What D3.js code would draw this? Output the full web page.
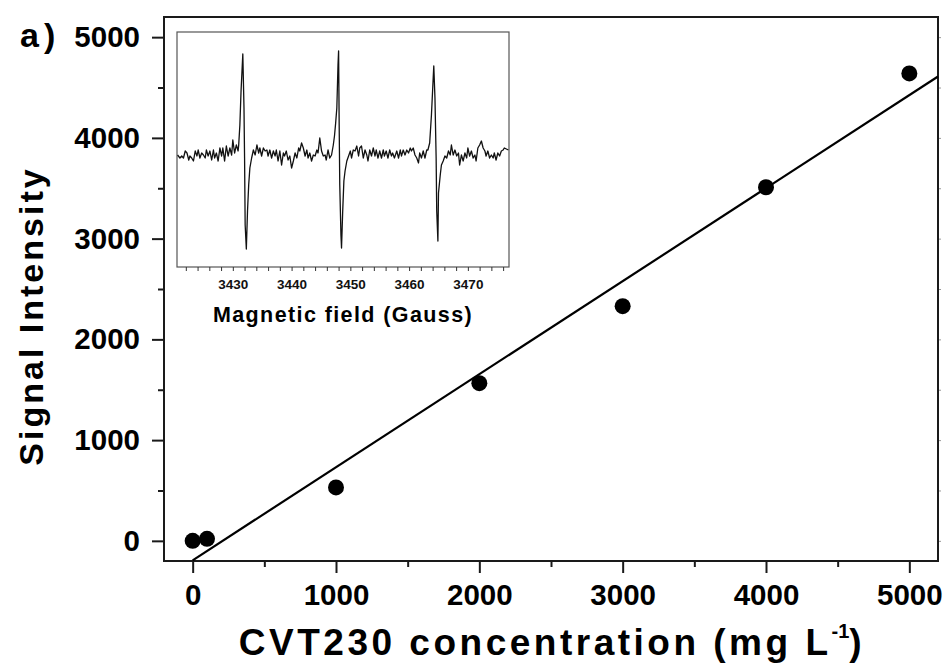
<!DOCTYPE html>
<html>
<head>
<meta charset="utf-8">
<script src="https://cdn.jsdelivr.net/npm/d3@7.9.0/dist/d3.min.js"></script>
<style>
  html, body { margin: 0; padding: 0; background: #fff; }
  svg { display: block; font-family: "Liberation Sans", Arial, sans-serif; }
</style>
</head>
<body>
<div id="chart"></div>
<script>
// main calibration data
const concentration = [0, 100, 1000, 2000, 3000, 4000, 5000];
const signal = [0, 20, 530, 1565, 2330, 3510, 4640];
const xTicks = [0, 1000, 2000, 3000, 4000, 5000];
const yTicks = [0, 1000, 2000, 3000, 4000, 5000];
const minorTicks = [500, 1500, 2500, 3500, 4500];

// inset EPR spectrum (field in Gauss, intensity arb. units)
const fieldG = [
  3420.6, 3421.0, 3421.3, 3421.6, 3421.9, 3422.2, 3422.5, 3422.7, 3423.0, 3423.3,
  3423.6, 3423.9, 3424.1, 3424.4, 3424.7, 3425.0, 3425.3, 3425.5, 3425.8, 3426.1,
  3426.4, 3426.7, 3426.9, 3427.2, 3427.5, 3427.8, 3428.1, 3428.3, 3428.6, 3428.9,
  3429.2, 3429.5, 3429.8, 3430.0, 3430.3, 3430.6, 3430.9,
  3431.0, 3431.2, 3431.4, 3431.7, 3431.9, 3432.0, 3432.1, 3432.3, 3432.5, 3432.7,
  3432.9, 3433.2, 3433.5, 3433.8, 3434.1, 3434.4, 3434.6, 3434.9, 3435.2, 3435.5,
  3435.8, 3436.0, 3436.3, 3436.6, 3436.9, 3437.2, 3437.4, 3437.7, 3438.0, 3438.3,
  3438.6, 3438.8, 3439.1, 3439.4,
  3439.7, 3440.0, 3440.3, 3440.6, 3440.9, 3441.2, 3441.4, 3441.7, 3442.0, 3442.3,
  3442.6, 3442.8, 3443.1, 3443.4, 3443.7, 3444.0, 3444.3, 3444.5, 3444.8, 3445.1,
  3445.4, 3445.7, 3445.9, 3446.2, 3446.5, 3446.8, 3447.1, 3447.3,
  3447.5, 3447.7, 3447.9, 3448.0, 3448.1, 3448.2, 3448.4, 3448.5, 3448.7, 3448.9,
  3449.1, 3449.4, 3449.7, 3450.0, 3450.2, 3450.5, 3450.8, 3451.1, 3451.4, 3451.6,
  3451.9, 3452.2, 3452.5, 3452.8, 3453.0, 3453.3, 3453.6, 3453.9, 3454.2, 3454.4,
  3454.7, 3455.0, 3455.3, 3455.6, 3455.8, 3456.1, 3456.4, 3456.7, 3457.0, 3457.2,
  3457.5, 3457.9, 3458.2, 3458.5, 3458.7, 3459.0, 3459.3, 3459.6, 3459.9, 3460.2,
  3460.4, 3460.7, 3461.0, 3461.3, 3461.6, 3461.8, 3462.1, 3462.4, 3462.7, 3463.0,
  3463.2, 3463.5,
  3463.8, 3464.1, 3464.2, 3464.4, 3464.6, 3464.7, 3464.9, 3465.0, 3465.3, 3465.5,
  3465.8, 3466.1, 3466.4, 3466.7, 3467.0, 3467.2, 3467.5, 3467.8, 3468.1, 3468.4,
  3468.6, 3468.9, 3469.2, 3469.5, 3469.8, 3470.0, 3470.3, 3470.6, 3470.9, 3471.2,
  3471.4, 3471.7, 3472.0, 3472.3, 3472.6, 3472.9, 3473.1, 3473.4, 3473.7, 3474.0,
  3474.3, 3474.5, 3474.8, 3475.1, 3475.4, 3475.7, 3476.0, 3476.2, 3476.9
];
const epr = [
  -2, -5, -3, -5, 2, 0, -7, -3, -5, -8,
  2, -3, 3, -5, 0, -2, -5, 3, -3, 2,
  -7, 3, -5, 0, -8, 5, -3, 5, -8, 7,
  -3, 5, -2, 13, 0, 8, 2,
  8, 28, 62, 99, 45, -5, -72, -96, -58, -32,
  -15, -5, 3, -2, 8, 0, 5, -3, 5, 2,
  3, -3, 3, -5, 2, -3, 3, -8, 2, -12,
  0, -3, 2, -7,
  -3, -15, -8, 0, -5, 5, 2, 10, 5, -3,
  3, -5, 0, -8, -2, -3, 3, 0, 15, 2,
  -3, -2, -7, 3, -5, -2, 8, 17,
  30, 45, 88, 102, 28, -32, -82, -95, -58, -28,
  -18, -8, -3, 2, -5, 3, 2, 7, -3, 5,
  7, -5, 3, -2, -8, 3, -3, 5, -3, 3,
  -5, 2, -5, 3, -3, 2, -5, 3, -3, 0,
  -5, 2, -5, 3, -3, 3, -2, 3, 0, 5,
  2, 5, -2, -5, -10, 0, -5, 2, -5, 3,
  3, 10,
  38, 75, 87, 55, -5, -58, -88, -40, -22, -12,
  -8, -3, -5, 2, -2, 8, -2, 3, -3, 0,
  -12, -2, -8, 0, -5, 5, -3, 2, -5, -2,
  -8, 5, 8, 12, 5, 2, -3, 2, -5, -2,
  -5, 0, -7, 0, -3, 2, 3, 5, 3
];
const insetTicks = d3.range(3422, 3477, 2);
const insetLabels = [3430, 3440, 3450, 3460, 3470];

const width = 947;
const height = 664;
const margin = { top: 17, right: 9, bottom: 103, left: 164 };

const svg = d3.select("#chart")
  .append("svg")
  .attr("width", width)
  .attr("height", height);

const x = d3.scaleLinear()
  .domain([-200, 5200])
  .range([margin.left, width - margin.right]);

const y = d3.scaleLinear()
  .domain([-200, 5200])
  .range([height - margin.bottom, margin.top]);

const axisColor = "#1a1a1a";

function styleAxis(g, size) {
  g.select(".domain").remove();
  g.selectAll(".tick line").attr("stroke", axisColor).attr("stroke-width", 2);
  g.selectAll(".tick text")
    .attr("fill", "#000")
    .attr("font-size", size)
    .attr("font-weight", "bold");
}

// x axis (major + minor)
svg.append("g")
  .attr("transform", `translate(0,${y.range()[0]})`)
  .call(d3.axisBottom(x).tickValues(xTicks).tickSize(12).tickPadding(11).tickFormat(d3.format("d")))
  .call(g => styleAxis(g, 29.5));
svg.append("g")
  .attr("transform", `translate(0,${y.range()[0]})`)
  .call(d3.axisBottom(x).tickValues(minorTicks).tickSize(6).tickFormat(""))
  .call(g => styleAxis(g, 0));

// y axis (major + minor)
svg.append("g")
  .attr("transform", `translate(${x.range()[0]},0)`)
  .call(d3.axisLeft(y).tickValues(yTicks).tickSize(12).tickPadding(12).tickFormat(d3.format("d")))
  .call(g => styleAxis(g, 29.5));
svg.append("g")
  .attr("transform", `translate(${x.range()[0]},0)`)
  .call(d3.axisLeft(y).tickValues(minorTicks).tickSize(6).tickFormat(""))
  .call(g => styleAxis(g, 0));

// tiny ticks on right side
svg.append("g")
  .attr("transform", `translate(${x.range()[1]},0)`)
  .call(d3.axisRight(y).tickValues(d3.range(0, 5001, 500)).tickSize(3).tickFormat(""))
  .call(g => {
    g.select(".domain").remove();
    g.selectAll(".tick line").attr("stroke", "#999").attr("stroke-width", 1);
  });

// frame
svg.append("rect")
  .attr("x", x.range()[0])
  .attr("y", y.range()[1])
  .attr("width", x.range()[1] - x.range()[0])
  .attr("height", y.range()[0] - y.range()[1])
  .attr("fill", "none")
  .attr("stroke", axisColor)
  .attr("stroke-width", 2);

// linear fit from the data
const mx = d3.mean(concentration);
const my = d3.mean(signal);
const slope = d3.sum(concentration, (c, i) => (c - mx) * (signal[i] - my)) /
  d3.sum(concentration, c => (c - mx) * (c - mx));
const intercept = my - slope * mx;
const fitX = [0, 5200];

svg.append("line")
  .attr("x1", x(fitX[0]))
  .attr("y1", y(slope * fitX[0] + intercept))
  .attr("x2", x(fitX[1]))
  .attr("y2", y(slope * fitX[1] + intercept))
  .attr("stroke", "#000")
  .attr("stroke-width", 2.2);

svg.append("g")
  .selectAll("circle")
  .data(concentration)
  .join("circle")
  .attr("cx", d => x(d))
  .attr("cy", (d, i) => y(signal[i]))
  .attr("r", 8)
  .attr("fill", "#000");

// axis titles
svg.append("text")
  .attr("transform", `translate(43,316) rotate(-90)`)
  .attr("text-anchor", "middle")
  .attr("font-size", 34)
  .attr("font-weight", "bold")
  .attr("letter-spacing", 3)
  .text("Signal Intensity");

const xTitle = svg.append("text")
  .attr("x", 552)
  .attr("y", 655)
  .attr("text-anchor", "middle")
  .attr("font-size", 37)
  .attr("font-weight", "bold")
  .attr("letter-spacing", 3.5);
xTitle.append("tspan").text("CVT230 concentration (mg L");
xTitle.append("tspan").attr("font-size", 20).attr("dy", -17).attr("letter-spacing", 0).text("-1");
xTitle.append("tspan").attr("dy", 17).text(")");

svg.append("text")
  .attr("x", 20)
  .attr("y", 47)
  .attr("font-size", 34)
  .attr("font-weight", "bold")
  .attr("letter-spacing", 5)
  .text("a)");

// inset
const ix = d3.scaleLinear().domain([3420.5, 3477]).range([177, 509]);
const iy = d3.scaleLinear().domain([-114, 121]).range([267, 32]);

svg.append("rect")
  .attr("x", 177)
  .attr("y", 32)
  .attr("width", 332)
  .attr("height", 235)
  .attr("fill", "#fff")
  .attr("stroke", "#555")
  .attr("stroke-width", 1.2);

svg.append("g")
  .attr("transform", "translate(0,267)")
  .call(d3.axisBottom(ix).tickValues(insetTicks).tickSize(4).tickPadding(8)
    .tickFormat(d => insetLabels.includes(d) ? d : ""))
  .call(g => {
    g.select(".domain").remove();
    g.selectAll(".tick line").attr("stroke", "#333").attr("stroke-width", 1);
    g.selectAll(".tick text").attr("fill", "#111").attr("font-size", 13.5).attr("font-weight", "bold");
  });

svg.append("path")
  .datum(fieldG)
  .attr("d", d3.line().x(d => ix(d)).y((d, i) => iy(epr[i])))
  .attr("fill", "none")
  .attr("stroke", "#111")
  .attr("stroke-width", 1.3)
  .attr("stroke-linejoin", "round");

svg.append("text")
  .attr("x", 343)
  .attr("y", 322)
  .attr("text-anchor", "middle")
  .attr("font-size", 21.5)
  .attr("font-weight", "bold")
  .attr("letter-spacing", 1.4)
  .text("Magnetic field (Gauss)");
</script>
</body>
</html>
